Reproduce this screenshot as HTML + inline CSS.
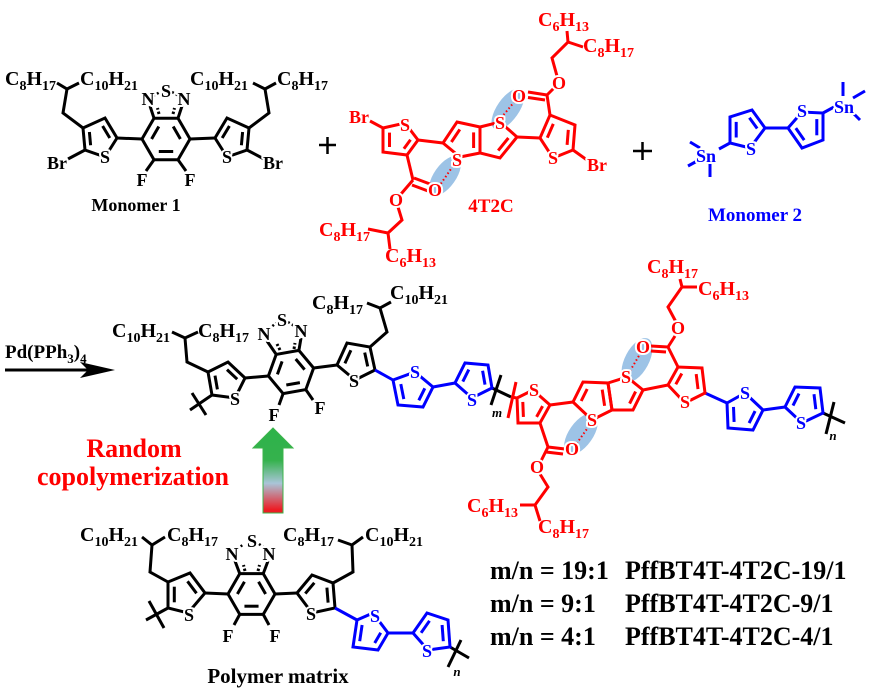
<!DOCTYPE html>
<html><head><meta charset="utf-8"><style>
html,body{margin:0;padding:0;background:#fff;width:869px;height:694px;overflow:hidden}
svg{display:block}
text{font-family:"Liberation Serif",serif;font-weight:bold}
.h{paint-order:stroke;stroke:#fff;stroke-width:4;stroke-linejoin:round}
.a{font-size:18px;text-anchor:middle}
.c{font-size:20px}
</style></head><body>
<svg width="869" height="694" viewBox="0 0 869 694" xmlns="http://www.w3.org/2000/svg">
<defs>
<linearGradient id="gr" x1="0" y1="0" x2="0" y2="1">
<stop offset="0" stop-color="#2db34a"/><stop offset="0.38" stop-color="#35b24d"/><stop offset="0.65" stop-color="#a9c5d8"/><stop offset="0.96" stop-color="#ed1c24"/><stop offset="1" stop-color="#ed1c24"/>
</linearGradient>
</defs>
<rect width="869" height="694" fill="#fff"/>

<!-- ellipses -->
<g fill="#9dc3e6">
<ellipse cx="508" cy="109" rx="11" ry="24" transform="rotate(35 508 109)"/>
<ellipse cx="445" cy="176" rx="11" ry="23" transform="rotate(35 445 176)"/>
<ellipse cx="637" cy="360" rx="12" ry="24" transform="rotate(28 637 360)"/>
<ellipse cx="581" cy="434" rx="12" ry="24" transform="rotate(35 581 434)"/>
</g>

<!-- ===== Monomer 1 ===== -->
<g stroke="#000" stroke-width="3" fill="none">
<polyline points="57,83 67,89 79,83"/><polyline points="67,89 63,113 83,128"/>
<polygon points="83,128 105,118 117,138 105,157 85,150"/>
<line x1="89.4" y1="132" x2="90.6" y2="145.2"/><line x1="102.6" y1="126" x2="109.8" y2="138"/>
<line x1="85" y1="150" x2="68" y2="159"/>
<line x1="117" y1="138" x2="142" y2="139"/>
<polygon points="190,139 178,118.2 154,118.2 142,139 154,159.8 178,159.8"/>
<line x1="158.8" y1="126.5" x2="151.6" y2="139"/><line x1="173.2" y1="126.5" x2="180.4" y2="139"/><line x1="158.8" y1="151.5" x2="173.2" y2="151.5"/>
<line x1="154" y1="118.2" x2="150" y2="106"/><line x1="178" y1="118.2" x2="182" y2="106"/>
<line x1="159" y1="114" x2="157.5" y2="108" stroke-dasharray="2.5 2"/><line x1="173" y1="114" x2="174.5" y2="108" stroke-dasharray="2.5 2"/>
<line x1="153" y1="96" x2="160" y2="92" stroke-width="2.5" stroke-dasharray="2 2.5"/><line x1="172" y1="92" x2="179" y2="96" stroke-width="2.5" stroke-dasharray="2 2.5"/>
<line x1="154" y1="159.8" x2="146" y2="171"/><line x1="178" y1="159.8" x2="186" y2="171"/>
<line x1="190" y1="139" x2="215" y2="138"/>
<polygon points="249,128 227,118 215,138 227,157 247,150"/>
<line x1="242.6" y1="132" x2="241.4" y2="145.2"/><line x1="229.4" y1="126" x2="222.2" y2="138"/>
<line x1="247" y1="150" x2="264" y2="159"/>
<polyline points="249,128 269,113 265,89"/><polyline points="253,83 265,89 276,83"/>
</g>
<g fill="#000">
<text class="c" x="5" y="85">C<tspan font-size="14" dy="5">8</tspan><tspan dy="-5">H</tspan><tspan font-size="14" dy="5">17</tspan></text>
<text class="c" x="80" y="85">C<tspan font-size="14" dy="5">10</tspan><tspan dy="-5">H</tspan><tspan font-size="14" dy="5">21</tspan></text>
<text class="c" x="190" y="85">C<tspan font-size="14" dy="5">10</tspan><tspan dy="-5">H</tspan><tspan font-size="14" dy="5">21</tspan></text>
<text class="c" x="277" y="85">C<tspan font-size="14" dy="5">8</tspan><tspan dy="-5">H</tspan><tspan font-size="14" dy="5">17</tspan></text>
<text class="a h" x="148" y="105">N</text><text class="a h" x="166" y="97">S</text><text class="a h" x="184" y="105">N</text>
<text class="a h" x="105" y="163">S</text><text class="a h" x="227" y="163">S</text>
<text class="a h" x="57" y="169">Br</text><text class="a h" x="273" y="169">Br</text>
<text class="a h" x="142" y="186">F</text><text class="a h" x="190" y="186">F</text>
<text x="136" y="211" font-size="18" text-anchor="middle">Monomer 1</text>
</g>
<g stroke="#000" stroke-width="2.5">
<line x1="319" y1="145" x2="336" y2="145"/><line x1="327.5" y1="137" x2="327.5" y2="154"/>
<line x1="633" y1="151" x2="652" y2="151"/><line x1="642.5" y1="142" x2="642.5" y2="160"/>
</g>

<!-- ===== 4T2C ===== -->
<g stroke="#f00" stroke-width="3" fill="none">
<polygon points="418,140 405,123 383,128 383,152 407,155"/>
<line x1="410.5" y1="139.8" x2="403.9" y2="148.8"/><line x1="389.5" y1="147" x2="389.5" y2="132.6"/>
<line x1="383" y1="128" x2="370" y2="121"/>
<line x1="418" y1="140" x2="443" y2="143"/>
<polygon points="457,122 480,127 480,153 460,157 443,143"/>
<polygon points="480,127 500,122 517,137 500,158 480,153"/>
<line x1="459.8" y1="129.4" x2="451.4" y2="142"/><line x1="473.6" y1="132.4" x2="473.6" y2="148"/><line x1="508.4" y1="138" x2="498.2" y2="150.6"/>
<line x1="517" y1="137" x2="540" y2="138"/>
<polygon points="540,138 550,115 575,125 573,150 553,158"/>
<line x1="547.3" y1="137.7" x2="553.3" y2="123.9"/><line x1="568.3" y1="129.9" x2="567.1" y2="144.9"/>
<line x1="573" y1="150" x2="587" y2="160"/>
<line x1="550" y1="115" x2="547" y2="95"/>
<line x1="547" y1="95" x2="528" y2="92"/><line x1="545" y1="100" x2="528" y2="97.5"/>
<line x1="547" y1="95" x2="554" y2="88"/>
<polyline points="557,76 552,58 568,42 567,31"/><line x1="568" y1="42" x2="583" y2="47"/>
<line x1="407" y1="155" x2="413" y2="180"/>
<line x1="414" y1="178" x2="430" y2="184"/><line x1="412" y1="185" x2="428" y2="191"/>
<line x1="413" y1="180" x2="401" y2="194"/>
<polyline points="398,207 402,220 388,233 390,249"/><line x1="388" y1="233" x2="368" y2="229"/>
<line x1="501" y1="118" x2="515" y2="101" stroke-width="2" stroke-dasharray="1.5 2.5"/>
<line x1="453" y1="166" x2="440" y2="185" stroke-width="2" stroke-dasharray="1.5 2.5"/>
</g>
<g fill="#f00">
<text class="a h" x="359" y="123">Br</text><text class="a h" x="405" y="131">S</text>
<text class="a h" x="457" y="166">S</text><text class="a h" x="500" y="129">S</text>
<text class="a h" x="553" y="164">S</text><text class="a h" x="597" y="171">Br</text>
<text class="a h" x="519" y="102">O</text><text class="a h" x="559" y="89">O</text>
<text class="a h" x="435" y="196">O</text><text class="a h" x="396" y="206">O</text>
<text class="c" x="538" y="26">C<tspan font-size="14" dy="5">6</tspan><tspan dy="-5">H</tspan><tspan font-size="14" dy="5">13</tspan></text>
<text class="c" x="583" y="52">C<tspan font-size="14" dy="5">8</tspan><tspan dy="-5">H</tspan><tspan font-size="14" dy="5">17</tspan></text>
<text class="c" x="319" y="236">C<tspan font-size="14" dy="5">8</tspan><tspan dy="-5">H</tspan><tspan font-size="14" dy="5">17</tspan></text>
<text class="c" x="385" y="262">C<tspan font-size="14" dy="5">6</tspan><tspan dy="-5">H</tspan><tspan font-size="14" dy="5">13</tspan></text>
<text x="491" y="212" font-size="19" text-anchor="middle">4T2C</text>
</g>

<!-- ===== Monomer 2 ===== -->
<g stroke="#00f" stroke-width="3" fill="none">
<line x1="690" y1="142" x2="700" y2="148"/><line x1="688" y1="166" x2="699" y2="160"/><line x1="710" y1="163" x2="710" y2="177"/>
<line x1="719" y1="149" x2="730" y2="143"/>
<polygon points="730,143 730,117 752,110 765,128 750,148"/>
<line x1="736.2" y1="121.9" x2="736.2" y2="137.5"/><line x1="749.4" y1="117.7" x2="757.2" y2="128.5"/>
<line x1="765" y1="128" x2="788" y2="128"/>
<polygon points="788,128 802,112 823,113 823,140 802,148"/>
<line x1="795.8" y1="128.1" x2="804.2" y2="140.1"/><line x1="816.8" y1="135.3" x2="816.8" y2="119.1"/>
<line x1="823" y1="113" x2="834" y2="107"/>
<line x1="843" y1="82" x2="843" y2="96"/><line x1="853" y1="98" x2="865" y2="91"/><line x1="852" y1="112" x2="860" y2="120"/>
</g>
<g fill="#00f">
<text class="a h" x="706" y="162">Sn</text><text class="a h" x="844" y="113">Sn</text>
<text class="a h" x="751" y="155">S</text><text class="a h" x="802" y="117">S</text>
<text x="755" y="221" font-size="19" text-anchor="middle">Monomer 2</text>
</g>

<!-- ===== reagent arrow ===== -->
<text x="5" y="358" font-size="19">Pd(PPh<tspan font-size="13" dy="5">3</tspan><tspan dy="-5">)</tspan><tspan font-size="13" dy="5">4</tspan></text>
<line x1="5" y1="370" x2="95" y2="370" stroke="#000" stroke-width="3"/>
<polygon points="80,362 115,370 80,378 88,370" fill="#000"/>

<!-- ===== Middle polymer ===== -->
<g stroke="#000" stroke-width="3" fill="none">
<polyline points="172,332 185,338 198,332"/><polyline points="185,338 187,362 208,372"/>
<polygon points="208,372 228,362 245,378 235,398 212,395"/>
<line x1="215" y1="375.6" x2="217.4" y2="389.4"/><line x1="227" y1="369.6" x2="237.2" y2="379.2"/>
<line x1="212" y1="395" x2="190" y2="410"/><line x1="192" y1="393" x2="206" y2="415"/>
<line x1="245" y1="378" x2="268.4" y2="376"/>
<polygon points="313.6,368 298.9,350.4 276.2,354.4 268.4,376 283.1,393.6 305.8,389.6"/>
<line x1="282.1" y1="361.4" x2="277.4" y2="374.4"/><line x1="295.7" y1="359" x2="304.6" y2="369.6"/><line x1="286.3" y1="385" x2="299.9" y2="382.6"/>
<line x1="276.2" y1="354.4" x2="267" y2="341"/><line x1="298.9" y1="350.4" x2="301" y2="338"/>
<line x1="280" y1="350" x2="277" y2="344" stroke-dasharray="2.5 2"/><line x1="294" y1="349" x2="295" y2="343" stroke-dasharray="2.5 2"/>
<line x1="269" y1="329" x2="276" y2="323" stroke-width="2.5" stroke-dasharray="2 2.5"/><line x1="288" y1="322" x2="296" y2="327" stroke-width="2.5" stroke-dasharray="2 2.5"/>
<line x1="283.1" y1="393.6" x2="279" y2="405"/><line x1="305.8" y1="389.6" x2="313" y2="400"/>
<line x1="313.6" y1="368" x2="337" y2="365"/>
<polygon points="337,365 347,343 370,347 375,370 355,380"/>
<line x1="350.9" y1="350.2" x2="344.9" y2="363.4"/><line x1="364.7" y1="352.6" x2="367.7" y2="366.4"/>
<polyline points="370,347 387,332 380,308"/><polyline points="367,303 380,308 391,302"/>
<line x1="492" y1="388" x2="511" y2="397"/><line x1="501" y1="375" x2="491" y2="405"/>
<line x1="823" y1="413" x2="845" y2="423"/><line x1="834" y1="402" x2="826" y2="434"/>
</g>
<g fill="#000">
<text class="c" x="112" y="337">C<tspan font-size="14" dy="5">10</tspan><tspan dy="-5">H</tspan><tspan font-size="14" dy="5">21</tspan></text>
<text class="c" x="198" y="337">C<tspan font-size="14" dy="5">8</tspan><tspan dy="-5">H</tspan><tspan font-size="14" dy="5">17</tspan></text>
<text class="c" x="312" y="309">C<tspan font-size="14" dy="5">8</tspan><tspan dy="-5">H</tspan><tspan font-size="14" dy="5">17</tspan></text>
<text class="c" x="390" y="299">C<tspan font-size="14" dy="5">10</tspan><tspan dy="-5">H</tspan><tspan font-size="14" dy="5">21</tspan></text>
<text class="a h" x="264" y="340">N</text><text class="a h" x="282" y="326">S</text><text class="a h" x="301" y="337">N</text>
<text class="a h" x="274" y="421">F</text><text class="a h" x="320" y="414">F</text>
<text class="a h" x="235" y="405">S</text><text class="a h" x="354" y="387">S</text>
<text x="497" y="417" font-size="13" font-style="italic" text-anchor="middle">m</text>
<text x="833" y="440" font-size="13" font-style="italic" text-anchor="middle">n</text>
</g>
<g stroke="#00f" stroke-width="3" fill="none">
<line x1="375" y1="370" x2="393" y2="380"/>
<polygon points="393,380 415,372 433,387 423,407 398,405"/>
<line x1="400.8" y1="384.1" x2="403.8" y2="399.1"/><line x1="418.8" y1="400.3" x2="424.8" y2="388.3"/>
<line x1="433" y1="387" x2="455" y2="383"/>
<polygon points="455,383 465,363 488,365 492,388 472,398"/>
<line x1="462.8" y1="381.6" x2="468.8" y2="369.6"/><line x1="482.6" y1="370.8" x2="485" y2="384.6"/>
<line x1="705" y1="393" x2="727" y2="403"/>
<polygon points="727,403 745,393 763,410 753,430 728,428"/>
<line x1="733.5" y1="406.9" x2="734.1" y2="421.9"/><line x1="749.1" y1="423.1" x2="755.1" y2="411.1"/>
<line x1="763" y1="410" x2="785" y2="407"/>
<polygon points="785,407 795,387 820,388 823,413 802,423"/>
<line x1="793" y1="405.6" x2="799" y2="393.6"/><line x1="814" y1="394.2" x2="815.8" y2="409.2"/>
</g>
<g fill="#00f">
<text class="a h" x="415" y="378">S</text><text class="a h" x="472" y="406">S</text>
<text class="a h" x="745" y="399">S</text><text class="a h" x="801" y="429">S</text>
</g>
<g stroke="#f00" stroke-width="3" fill="none">
<line x1="516" y1="382" x2="508" y2="418"/>
<line x1="511" y1="397" x2="517" y2="398"/>
<polygon points="517,398 533,390 550,405 540,423 518,423"/>
<line x1="523.4" y1="416.9" x2="522.8" y2="401.9"/><line x1="542.6" y1="406.1" x2="536.6" y2="416.9"/>
<line x1="540" y1="423" x2="548" y2="447"/>
<line x1="548" y1="447" x2="565" y2="449"/><line x1="546" y1="452" x2="563" y2="454"/>
<line x1="548" y1="447" x2="541" y2="461"/>
<polyline points="540,474 548,487 535,505 540,521"/><line x1="535" y1="505" x2="520" y2="505"/>
<line x1="550" y1="405" x2="573" y2="402"/>
<polygon points="573,402 583,382 608,383 612,410 592,420"/>
<polygon points="608,383 627,377 643,390 633,410 612,410"/>
<line x1="581.2" y1="401" x2="587.2" y2="389"/><line x1="602.2" y1="389.6" x2="604.6" y2="405.8"/><line x1="635.6" y1="391.6" x2="629.6" y2="403.6"/>
<line x1="643" y1="390" x2="668" y2="385"/>
<polygon points="668,385 678,367 702,368 705,393 685,403"/>
<line x1="675.8" y1="384.3" x2="681.8" y2="373.5"/><line x1="696.2" y1="374.1" x2="698" y2="389.1"/>
<line x1="678" y1="367" x2="668" y2="347"/>
<line x1="668" y1="347" x2="651" y2="346"/><line x1="666" y1="352" x2="651" y2="351"/>
<line x1="668" y1="347" x2="675" y2="336"/>
<polyline points="676,322 668,307 682,287 680,279"/><line x1="682" y1="287" x2="697" y2="287"/>
<line x1="630" y1="371" x2="640" y2="354" stroke-width="2" stroke-dasharray="1.5 2.5"/>
<line x1="589" y1="426" x2="577" y2="443" stroke-width="2" stroke-dasharray="1.5 2.5"/>
</g>
<g fill="#f00">
<text class="a h" x="534" y="396">S</text><text class="a h" x="592" y="426">S</text>
<text class="a h" x="626" y="383">S</text><text class="a h" x="685" y="408">S</text>
<text class="a h" x="643" y="353">O</text><text class="a h" x="678" y="334">O</text>
<text class="a h" x="572" y="455">O</text><text class="a h" x="537" y="473">O</text>
<text class="c" x="647" y="273">C<tspan font-size="14" dy="5">8</tspan><tspan dy="-5">H</tspan><tspan font-size="14" dy="5">17</tspan></text>
<text class="c" x="698" y="295">C<tspan font-size="14" dy="5">6</tspan><tspan dy="-5">H</tspan><tspan font-size="14" dy="5">13</tspan></text>
<text class="c" x="467" y="512">C<tspan font-size="14" dy="5">6</tspan><tspan dy="-5">H</tspan><tspan font-size="14" dy="5">13</tspan></text>
<text class="c" x="538" y="533">C<tspan font-size="14" dy="5">8</tspan><tspan dy="-5">H</tspan><tspan font-size="14" dy="5">17</tspan></text>
</g>

<!-- ===== Random copolymerization + green arrow ===== -->
<g fill="#f00" font-size="26" text-anchor="middle">
<text x="134" y="457">Random</text>
<text x="133" y="485">copolymerization</text>
</g>
<polygon points="253,448 273,428 293,448 283,448 283,513 263,513 263,448" fill="url(#gr)" stroke="#3cb44b" stroke-width="1"/>

<!-- ===== Polymer matrix ===== -->
<g stroke="#000" stroke-width="3" fill="none">
<polyline points="142,537 152,545 165,537"/><polyline points="152,545 150,572 168,582"/>
<polygon points="168,582 190,573 205,593 188,613 168,608"/>
<line x1="174.3" y1="586.7" x2="174.3" y2="602.3"/><line x1="187.5" y1="581.3" x2="196.5" y2="593.3"/>
<line x1="168" y1="608" x2="146" y2="620"/><line x1="149" y1="601" x2="164" y2="628"/>
<line x1="205" y1="593" x2="228" y2="594"/>
<polygon points="275,594 263.25,573.65 239.75,573.65 228,594 239.75,614.35 263.25,614.35"/>
<line x1="244.45" y1="581.8" x2="237.4" y2="594"/><line x1="258.55" y1="581.8" x2="265.6" y2="594"/><line x1="244.45" y1="606.2" x2="258.55" y2="606.2"/>
<line x1="239.75" y1="573.65" x2="235" y2="561"/><line x1="263.25" y1="573.65" x2="268" y2="561"/>
<line x1="245" y1="571" x2="243.5" y2="565" stroke-dasharray="2.5 2"/><line x1="258" y1="571" x2="259.5" y2="565" stroke-dasharray="2.5 2"/>
<line x1="237" y1="549" x2="244" y2="544" stroke-width="2.5" stroke-dasharray="2 2.5"/><line x1="259" y1="544" x2="266" y2="549" stroke-width="2.5" stroke-dasharray="2 2.5"/>
<line x1="239.75" y1="614.35" x2="234" y2="625"/><line x1="263.25" y1="614.35" x2="269" y2="625"/>
<line x1="275" y1="594" x2="297" y2="593"/>
<polygon points="297,593 312,575 333,583 335,608 312,613"/>
<line x1="314.3" y1="582.8" x2="305.3" y2="593.6"/><line x1="326.9" y1="587.6" x2="328.1" y2="602.6"/>
<polyline points="333,583 353,572 352,545"/><polyline points="338,540 352,545 363,537"/>
<line x1="450" y1="647" x2="469" y2="658"/><line x1="461" y1="640" x2="448" y2="667"/>
</g>
<g fill="#000">
<text class="c" x="80" y="541">C<tspan font-size="14" dy="5">10</tspan><tspan dy="-5">H</tspan><tspan font-size="14" dy="5">21</tspan></text>
<text class="c" x="167" y="541">C<tspan font-size="14" dy="5">8</tspan><tspan dy="-5">H</tspan><tspan font-size="14" dy="5">17</tspan></text>
<text class="c" x="283" y="541">C<tspan font-size="14" dy="5">8</tspan><tspan dy="-5">H</tspan><tspan font-size="14" dy="5">17</tspan></text>
<text class="c" x="365" y="541">C<tspan font-size="14" dy="5">10</tspan><tspan dy="-5">H</tspan><tspan font-size="14" dy="5">21</tspan></text>
<text class="a h" x="232" y="560">N</text><text class="a h" x="252" y="547">S</text><text class="a h" x="269" y="560">N</text>
<text class="a h" x="228" y="642">F</text><text class="a h" x="275" y="642">F</text>
<text class="a h" x="189" y="621">S</text><text class="a h" x="311" y="620">S</text>
<text x="457" y="676" font-size="13" font-style="italic" text-anchor="middle">n</text>
<text x="278" y="683" font-size="21" text-anchor="middle">Polymer matrix</text>
</g>
<g stroke="#00f" stroke-width="3" fill="none">
<line x1="335" y1="608" x2="357" y2="620"/>
<polygon points="357,620 373,613 388,633 378,650 353,647"/>
<line x1="362.1" y1="625" x2="359.7" y2="641.2"/><line x1="374.7" y1="643" x2="380.7" y2="632.8"/>
<line x1="388" y1="633" x2="413" y2="633"/>
<polygon points="413,633 427,613 448,620 450,647 428,650"/>
<line x1="421.1" y1="632.8" x2="429.5" y2="620.8"/><line x1="442.1" y1="625" x2="443.3" y2="641.2"/>
</g>
<g fill="#00f">
<text class="a h" x="375" y="622">S</text><text class="a h" x="427" y="657">S</text>
</g>

<!-- ===== ratio table ===== -->
<g fill="#000" font-size="26">
<text x="490" y="579">m/n = 19:1</text><text x="625" y="579">PffBT4T-4T2C-19/1</text>
<text x="490" y="612">m/n = 9:1</text><text x="625" y="612">PffBT4T-4T2C-9/1</text>
<text x="490" y="645">m/n = 4:1</text><text x="625" y="645">PffBT4T-4T2C-4/1</text>
</g>
</svg>
</body></html>
